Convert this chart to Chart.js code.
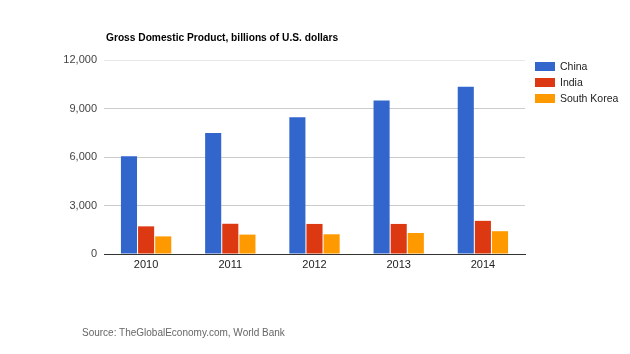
<!DOCTYPE html>
<html>
<head>
<meta charset="utf-8">
<script src="https://cdn.jsdelivr.net/npm/chart.js@4/dist/chart.umd.min.js"></script>
<style>
  body { margin: 0; background: #fff; font-family: Arial, "Liberation Sans", sans-serif; }
  #wrap { position: relative; width: 630px; height: 354px; }
  #title { position: absolute; left: 106px; top: 32px; font-size: 10.2px; font-weight: bold; color: #000; }
  #source { position: absolute; left: 82px; top: 327px; font-size: 10px; color: #666; }
  #legend { position: absolute; left: 535px; top: 60px; font-size: 10.5px; color: #222; }
  .item { height: 16px; display: flex; align-items: flex-start; }
  .box { width: 20px; height: 9px; margin: 2px 5px 0 0; }
</style>
</head>
<body>
<div id="wrap">
  <canvas id="chart" width="630" height="354"></canvas>
  <div id="title">Gross Domestic Product, billions of U.S. dollars</div>
  <div id="legend"></div>
  <div id="source">Source: TheGlobalEconomy.com, World Bank</div>
</div>
<script>
const years = ["2010", "2011", "2012", "2013", "2014"];
const china = [6040, 7490, 8460, 9490, 10350];
const india = [1710, 1870, 1860, 1860, 2050];
const southKorea = [1090, 1200, 1220, 1300, 1410];
const seriesNames = ["China", "India", "South Korea"];
const colors = ["#3366cc", "#dc3912", "#ff9900"];

const values = [china, india, southKorea];

// legende en html a droite
const legend = document.getElementById("legend");
seriesNames.forEach((name, i) => {
  legend.innerHTML += `<div class="item"><div class="box" style="background:${colors[i]}"></div>${name}</div>`;
});

const ctx = document.getElementById("chart").getContext("2d");
new Chart(ctx, {
  type: "bar",
  data: {
    labels: years,
    datasets: seriesNames.map((name, i) => ({
      label: name,
      data: values[i],
      backgroundColor: colors[i],
      categoryPercentage: 0.61,
      barPercentage: 0.94,
    })),
  },
  options: {
    responsive: false,
    animation: false,
    layout: { padding: { top: 60, left: 55, right: 105, bottom: 70 } },
    plugins: { legend: { display: false }, tooltip: { enabled: false } },
    scales: {
      x: {
        grid: { display: false, drawTicks: false },
        border: { color: "#333", width: 1 },
        ticks: { color: "#222", font: { family: "Arial", size: 11 }, padding: 4 },
        afterFit: (scale) => { scale.height = 30; },
      },
      y: {
        min: 0,
        max: 12000,
        border: { display: false },
        grid: {
          color: (c) => (c.tick.value === 12000 ? "#e8e8e8" : "#cccccc"),
          drawTicks: false,
        },
        ticks: {
          stepSize: 3000,
          color: "#444",
          padding: 7,
          font: { family: "Arial", size: 11 },
          callback: (v) => v.toLocaleString("en-US"),
        },
        afterFit: (scale) => { scale.width = 49; },
      },
    },
  },
});
</script>
</body>
</html>
